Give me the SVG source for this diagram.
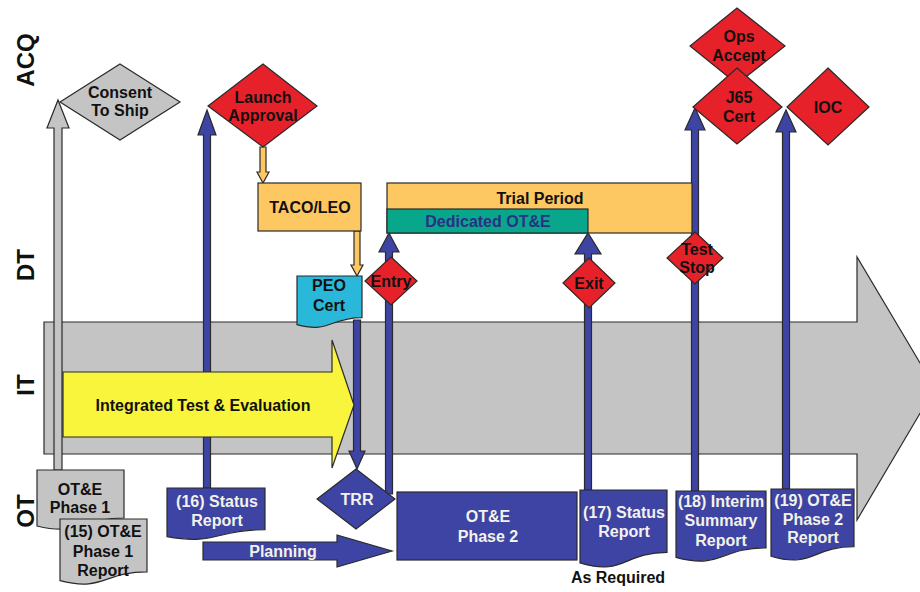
<svg xmlns="http://www.w3.org/2000/svg" width="920" height="592" viewBox="0 0 920 592">
  <style>
    text { font-family: "Liberation Sans", Arial, sans-serif; font-weight: bold; font-size: 16px; text-anchor: middle; }
    .dark { fill: #111111; }
    .light { fill: #f3f2ea; }
    .navy { fill: #2b2f85; }
    .lane { font-size: 24px; fill: #111111; }
    .edge { stroke: #2a2a2a; stroke-width: 1.2; stroke-linejoin: miter; }
    .red { fill: #e62129; }
    .blue { fill: #3d44a3; }
    .grey { fill: #c4c4c4; }
    .orange { fill: #fdc862; }
    .teal { fill: #08a78b; }
    .cyan { fill: #29b8d9; }
    .yellow { fill: #f8f53c; }
  </style>

  <rect width="920" height="592" fill="#ffffff"/>

  <!-- swim-lane labels -->
  <g id="lanes">
    <text class="lane" transform="translate(34,60) rotate(-90)">ACQ</text>
    <text class="lane" transform="translate(34,265) rotate(-90)">DT</text>
    <text class="lane" transform="translate(34,385) rotate(-90)">IT</text>
    <text class="lane" transform="translate(34,511) rotate(-90)">OT</text>
  </g>

  <!-- timeline backbone -->
  <g id="timeline">
    <path class="grey edge" d="M44,322 H857 V257 L935,388 L857,520 V454 H44 Z"/>
  </g>

  <!-- connectors -->
  <g id="connectors">
    <!-- OT&E Phase 1 to Consent To Ship -->
    <path class="grey edge" d="M54,470 V128 H47 L58,100 L69,128 H62 V470 Z"/>
    <!-- (16) Status Report to Launch Approval -->
    <path class="blue edge" d="M203.5,488 V135 H198 L207,110 L216,135 H210.5 V488 Z"/>
    <!-- Launch Approval to TACO/LEO -->
    <path class="orange edge" d="M260,147 V172 H257 L263,183 L269,172 H266 V147 Z"/>
    <!-- TACO/LEO to PEO Cert -->
    <path class="orange edge" d="M354,231 V265 H351 L357,276 L363,265 H360 V231 Z"/>
    <!-- PEO Cert to TRR -->
    <path class="blue edge" d="M353.5,320 V451 H349 L357,469 L365,451 H360.5 V320 Z"/>
    <!-- TRR to Dedicated OT&E (Entry) -->
    <path class="blue edge" d="M385.5,494 V252 H379 L389,233 L399,252 H392.5 V494 Z"/>
    <!-- (17) Status Report to Dedicated OT&E end (Exit) -->
    <path class="blue edge" d="M584.5,490 V254 H575 L588,233 L601,254 H591.5 V490 Z"/>
    <!-- (18) Interim Summary Report to J65 Cert -->
    <path class="blue edge" d="M691.5,491 V130 H685 L695,108 L705,130 H698.5 V491 Z"/>
    <!-- (19) OT&E Phase 2 Report to IOC -->
    <path class="blue edge" d="M782.5,489 V132 H776 L786,110 L796,132 H789.5 V489 Z"/>
  </g>

  <g id="integrated-te">
    <path class="yellow edge" d="M63,372 H332 V340 L354,405 L332,468 V437 H63 Z"/>
    <text class="dark" x="203" y="411">Integrated Test &amp; Evaluation</text>
  </g>

  <g id="consent-to-ship">
    <polygon class="grey edge" points="120,64 180,102 120,140 60,102"/>
    <text class="dark" x="120" y="98">Consent</text>
    <text class="dark" x="120" y="116">To Ship</text>
  </g>

  <g id="launch-approval">
    <polygon class="red edge" points="263,64 317,106 263,147 208,106"/>
    <text class="dark" x="263" y="103">Launch</text>
    <text class="dark" x="263" y="121">Approval</text>
  </g>

  <g id="taco-leo">
    <rect class="orange edge" x="258" y="183" width="103" height="48"/>
    <text class="dark" x="310" y="213">TACO/LEO</text>
  </g>

  <g id="peo-cert">
    <path class="cyan edge" d="M297,276 H362 V317.6 C329.5,317.6 329.5,333.6 297,324.6 Z"/>
    <text class="dark" x="329" y="291">PEO</text>
    <text class="dark" x="329" y="311">Cert</text>
  </g>

  <g id="trial-period">
    <rect class="orange edge" x="387" y="183" width="305" height="50"/>
    <text class="dark" x="540" y="204">Trial Period</text>
  </g>

  <g id="dedicated-ote">
    <rect class="teal edge" x="387" y="209" width="201" height="24"/>
    <text class="navy" x="488" y="227">Dedicated OT&amp;E</text>
  </g>

  <g id="entry">
    <polygon class="red edge" points="391,257 417,281 391,305 365,281"/>
    <text class="dark" x="391" y="287">Entry</text>
  </g>

  <g id="exit">
    <polygon class="red edge" points="589,258 615,283 589,308 563,283"/>
    <text class="dark" x="589" y="289">Exit</text>
  </g>

  <g id="test-stop">
    <polygon class="red edge" points="695,232 723,258 695,284 667,258"/>
    <text class="dark" x="697" y="255">Test</text>
    <text class="dark" x="697" y="273">Stop</text>
  </g>

  <g id="ops-accept">
    <polygon class="red edge" points="737,8 785,46 737,84 690,46"/>
    <text class="dark" x="739" y="42">Ops</text>
    <text class="dark" x="739" y="61">Accept</text>
  </g>

  <g id="j65-cert">
    <polygon class="red edge" points="737,68 782,107 737,144 693,107"/>
    <text class="dark" x="739" y="103">J65</text>
    <text class="dark" x="739" y="122">Cert</text>
  </g>

  <g id="ioc">
    <polygon class="red edge" points="828,68 869,107 828,145 787,107"/>
    <text class="dark" x="828" y="113">IOC</text>
  </g>

  <g id="ote-phase-1">
    <path class="grey edge" d="M37,470 H124 V518 C80.5,518 80.5,536.5 37,526 Z"/>
    <text class="dark" x="80" y="495">OT&amp;E</text>
    <text class="dark" x="80" y="513">Phase 1</text>
  </g>

  <g id="ote-phase-1-report">
    <path class="grey edge" d="M60,519 H147 V571.8 C103.5,571.8 103.5,592 60,580.6 Z"/>
    <text class="dark" x="103" y="537">(15) OT&amp;E</text>
    <text class="dark" x="103" y="557">Phase 1</text>
    <text class="dark" x="103" y="576">Report</text>
  </g>

  <g id="status-report-16">
    <path class="blue edge" d="M167,488 H265 V529.6 C216,529.6 216,545.6 167,536.6 Z"/>
    <text class="light" x="217" y="507">(16) Status</text>
    <text class="light" x="217" y="526">Report</text>
  </g>

  <g id="planning">
    <path class="blue edge" d="M203,542 H337 V535 L392,551 L337,567 V560 H203 Z"/>
    <text class="light" x="283" y="557">Planning</text>
  </g>

  <g id="trr">
    <polygon class="blue edge" points="356,469 395,499 356,529 317,499"/>
    <text class="light" x="357" y="505">TRR</text>
  </g>

  <g id="ote-phase-2">
    <rect class="blue edge" x="397" y="492" width="180" height="68"/>
    <text class="light" x="488" y="522">OT&amp;E</text>
    <text class="light" x="488" y="542">Phase 2</text>
  </g>

  <g id="status-report-17">
    <path class="blue edge" d="M580,490 H667 V552.4 C623.5,552.4 623.5,576.4 580,562.9 Z"/>
    <text class="light" x="624" y="518">(17) Status</text>
    <text class="light" x="624" y="537">Report</text>
    <text class="dark" x="618" y="583">As Required</text>
  </g>

  <g id="interim-summary-report-18">
    <path class="blue edge" d="M676,491 H766 V547.8 C721,547.8 721,569.6 676,557.3 Z"/>
    <text class="light" x="721" y="507">(18) Interim</text>
    <text class="light" x="721" y="526">Summary</text>
    <text class="light" x="721" y="546">Report</text>
  </g>

  <g id="ote-phase-2-report-19">
    <path class="blue edge" d="M771,489 H854 V546.6 C812.5,546.6 812.5,568.7 771,556.2 Z"/>
    <text class="light" x="813" y="506">(19) OT&amp;E</text>
    <text class="light" x="813" y="525">Phase 2</text>
    <text class="light" x="813" y="543">Report</text>
  </g>
</svg>
